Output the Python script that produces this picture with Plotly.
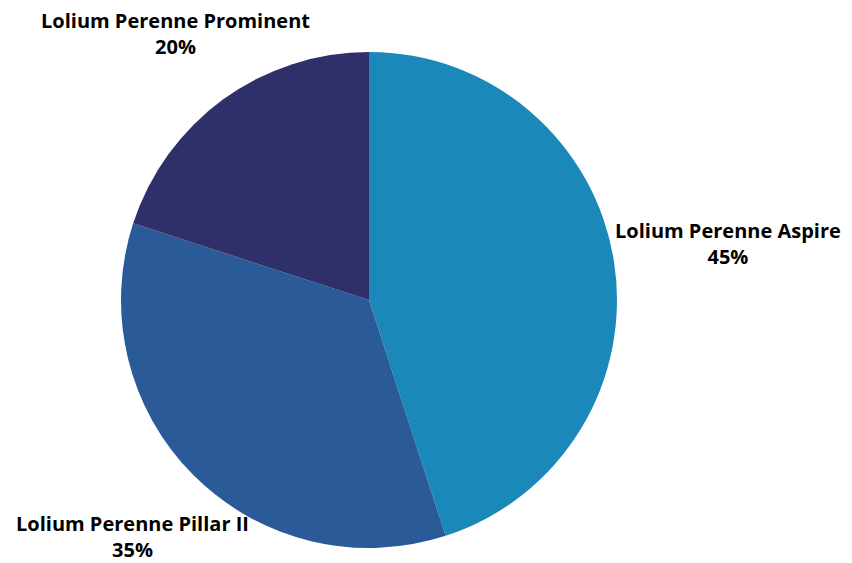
import math
import plotly.graph_objects as go

labels = ["Lolium Perenne Aspire", "Lolium Perenne Pillar II", "Lolium Perenne Prominent"]
values = [45, 35, 20]
colors = ["#1a88b9", "#2a5a98", "#2f2f6a"]

# radial distance of each label centre, in pie radii (layout only)
label_dist = [1.465, 1.35, 1.33]

fig = go.Figure(go.Pie(
    labels=labels,
    values=values,
    sort=False,
    direction="clockwise",
    rotation=0,
    marker=dict(colors=colors, line=dict(width=0)),
    textinfo="none",
    showlegend=False,
    hoverinfo="label+percent",
    domain=dict(x=[0, 1], y=[0, 1]),
))

total = sum(values)
cum = 0
annotations = []
for lab, v, d in zip(labels, values, label_dist):
    mid = (cum + v / 2) / total * 2 * math.pi
    cum += v
    x = 0.5 + 0.5 * d * math.sin(mid)
    y = 0.5 + 0.5 * d * math.cos(mid)
    annotations.append(dict(
        x=x, y=y, xref="paper", yref="paper",
        text=f"<b>{lab}</b><br><b>{round(v / total * 100)}%</b>",
        showarrow=False, xanchor="center", yanchor="middle", align="center",
        font=dict(family="Open Sans", size=20, color="#000000", weight=800),
    ))

fig.update_layout(
    width=844, height=555,
    margin=dict(l=113, r=235, t=44, b=15),
    paper_bgcolor="white",
    plot_bgcolor="white",
    annotations=annotations,
)
fig.write_html("out.html")
